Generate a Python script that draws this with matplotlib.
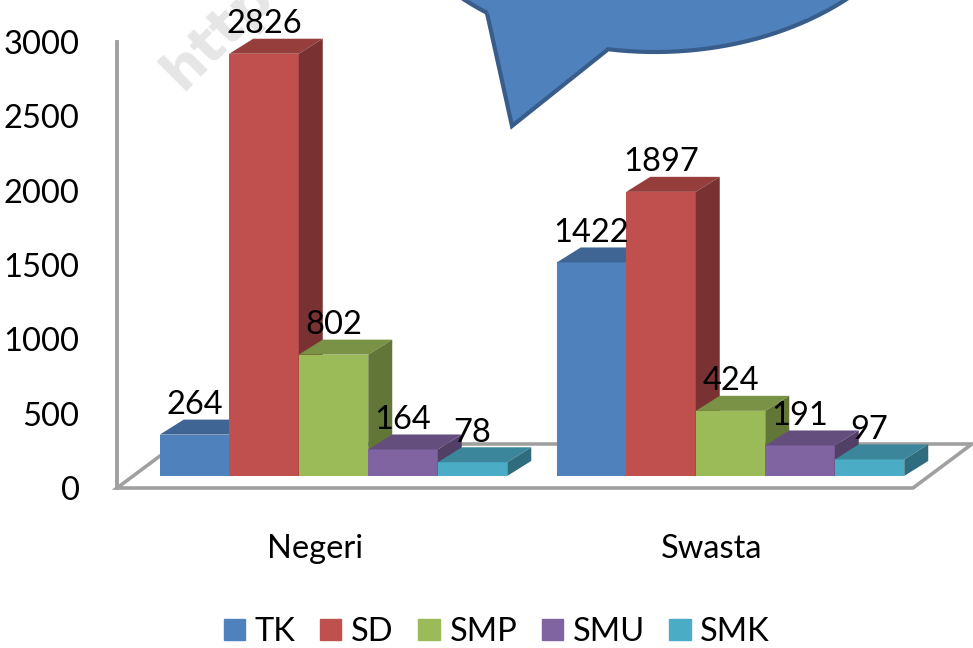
import numpy as np
import matplotlib
matplotlib.use('Agg')
import matplotlib.pyplot as plt
from matplotlib.patches import Patch, Polygon
from matplotlib.transforms import Affine2D

categories = ['Negeri', 'Swasta']
series = ['TK', 'SD', 'SMP', 'SMU', 'SMK']
negeri = [264, 2826, 802, 164, 78]
swasta = [1422, 1897, 424, 191, 97]
yticks = [0, 500, 1000, 1500, 2000, 2500, 3000]
colors = ['#4F81BD', '#C0504D', '#9BBB59', '#8064A2', '#4BACC6']

W, H = 973, 648
FS = 23.5
plt.rcParams['font.family'] = ['Lato', 'DejaVu Sans']

def shade(color, k):
    rgb = np.array(matplotlib.colors.to_rgb(color)) * k
    return tuple(rgb)

def arc(q0, q1, n=50):
    # part of the callout ellipse, in pixels
    q = np.linspace(q0, q1, n)
    return list(zip(655 + 284 * np.cos(q), -150 + 202 * np.sin(q)))

fig = plt.figure(figsize=(W / 100, H / 100), dpi=100)
ax = fig.add_axes([117 / W, 1 - 488 / H, (W - 117) / W, 446 / H])
ax.patch.set_alpha(0)
ax.set_xlim((117 - 315) / 397, (W - 315) / 397)
ax.set_ylim(0, 3000)

# pixel coords for the shapes that are not data
px = Affine2D().scale(1 / W, -1 / H).translate(0, 1) + fig.transFigure

# watermark behind everything
fig.text(182, 92, 'http://', transform=px, rotation=45, rotation_mode='anchor',
         fontsize=40, fontweight='bold', color='#E6E6E6', family='DejaVu Sans',
         ha='left', va='baseline', zorder=-1)

# floor
floor = Polygon([(0, 0), (796 / 856, 0), (855 / 856, 44 / 446), (59 / 856, 44 / 446)],
                closed=True, transform=ax.transAxes, facecolor='white',
                edgecolor='#A0A0A0', lw=2.6, clip_on=False, zorder=1)
ax.add_patch(floor)

# fake 3d
bar_w = 69.5 / 397
depth_x = 24 / 397
depth_y = 101
base = 81
lift = 95
shift = 18.5 / 397

for i, vals in enumerate([negeri, swasta]):
    for j, v in enumerate(vals):
        left = i + shift + (j - 2.5) * bar_w
        right = left + bar_w
        top = lift + v
        z = 2 + j
        ax.bar(left, top - base, width=bar_w, bottom=base, align='edge', color=colors[j], zorder=z)
        ax.fill([left, right, right + depth_x, left + depth_x],
                [top, top, top + depth_y, top + depth_y],
                color=shade(colors[j], 0.78), lw=0, zorder=z, clip_on=False)
        ax.fill([right, right + depth_x, right + depth_x, right],
                [base, base + depth_y, top + depth_y, top],
                color=shade(colors[j], 0.63), lw=0, zorder=z, clip_on=False)
        ax.annotate(str(v), (left + bar_w / 2, top + depth_y), xytext=(0, 10.5),
                    textcoords='offset points', ha='center', va='center',
                    fontsize=FS, color='black', zorder=20, annotation_clip=False)

ax.set_xticks(range(len(categories)), categories)
ax.set_yticks(yticks)
ax.tick_params(axis='both', length=0, labelsize=FS)
ax.tick_params(axis='x', pad=33)
ax.tick_params(axis='y', pad=27)
for s in ['top', 'right', 'bottom']:
    ax.spines[s].set_visible(False)
ax.spines['left'].set_color('#A0A0A0')
ax.spines['left'].set_linewidth(2.8)

# callout
pts = [(487, 13), (512, 126)] + arc(np.pi / 2 + 0.166, 0) + arc(np.pi, np.pi - 0.939)
callout = Polygon(pts, closed=True, transform=px, facecolor='#4F81BD',
                  edgecolor='#385D8A', lw=3, clip_on=False, zorder=30)
ax.add_patch(callout)

handles = [Patch(color=c, label=s) for c, s in zip(colors, series)]
fig.legend(handles=handles, loc='center', bbox_to_anchor=(497 / W, 1 - 632 / H), ncol=5,
           frameon=False, fontsize=FS, handlelength=0.65, handleheight=0.65,
           handletextpad=0.3, columnspacing=0.75)

fig.savefig('out.png', dpi=100)
